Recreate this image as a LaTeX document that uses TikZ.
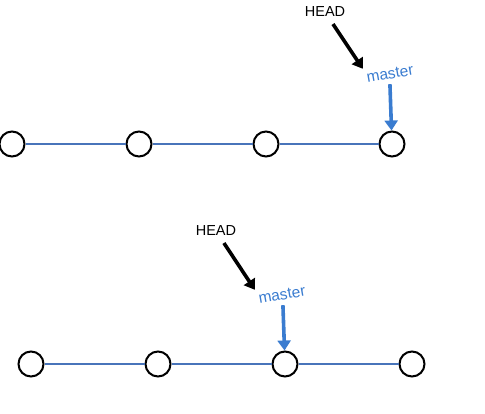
\documentclass[tikz,border=0pt]{standalone}
\usepackage{fontspec}
\setmainfont{Liberation Sans}
\usetikzlibrary{arrows.meta,positioning}
\definecolor{branchblue}{RGB}{58,124,208}
\definecolor{lineblue}{RGB}{72,116,186}

\begin{document}
\begin{tikzpicture}[x=1pt,y=-1pt,
    commit/.style={circle,draw=black,line width=2pt,fill=white,minimum size=25pt,inner sep=0pt},
    headlbl/.style={font=\fontsize{14.5}{16}\selectfont,inner sep=1pt},
    branchlbl/.style={font=\fontsize{15.5}{17}\selectfont,text=branchblue,rotate=10,inner sep=0pt},
    ptr/.style={-{Triangle[length=10pt,width=13pt]},line width=3.6pt}
  ]
  \useasboundingbox (0,0) rectangle (485,413);
  % upper: before
  \foreach \i/\x in {1/12,2/139,3/266,4/392}
    \node[commit] (a\i) at (\x,144) {};
  \path[lineblue,line width=1.5pt]
  (a1) edge (a2)
  (a2) edge (a3)
  (a3) edge (a4)
  ;
  \node[headlbl] (head1) at (325,12) {HEAD};
  \node[branchlbl] (master1) at (390,74) {master};
  \draw[ptr,shorten <=7pt,shorten >=5pt] (head1) -- (master1.north west);
  \draw[ptr,branchblue] (master1.south) ++(-1,5) coordinate (m1) (m1) -- (a4);
  % lower: after
  \foreach \i/\x in {1/31,2/158,3/285,4/412}
    \node[commit] (b\i) at (\x,364) {};
  \path[lineblue,line width=1.5pt]
  (b1) edge (b2)
  (b2) edge (b3)
  (b3) edge (b4)
  ;
  \node[headlbl] (head2) at (216,231) {HEAD};
  \node[branchlbl] (master2) at (282,295) {master};
  \draw[ptr,shorten <=7pt,shorten >=5pt] (head2) -- (master2.north west);
  \draw[ptr,branchblue] (master2.south) ++(0,5) coordinate (m2) (m2) -- (b3);
\end{tikzpicture}
\end{document}
